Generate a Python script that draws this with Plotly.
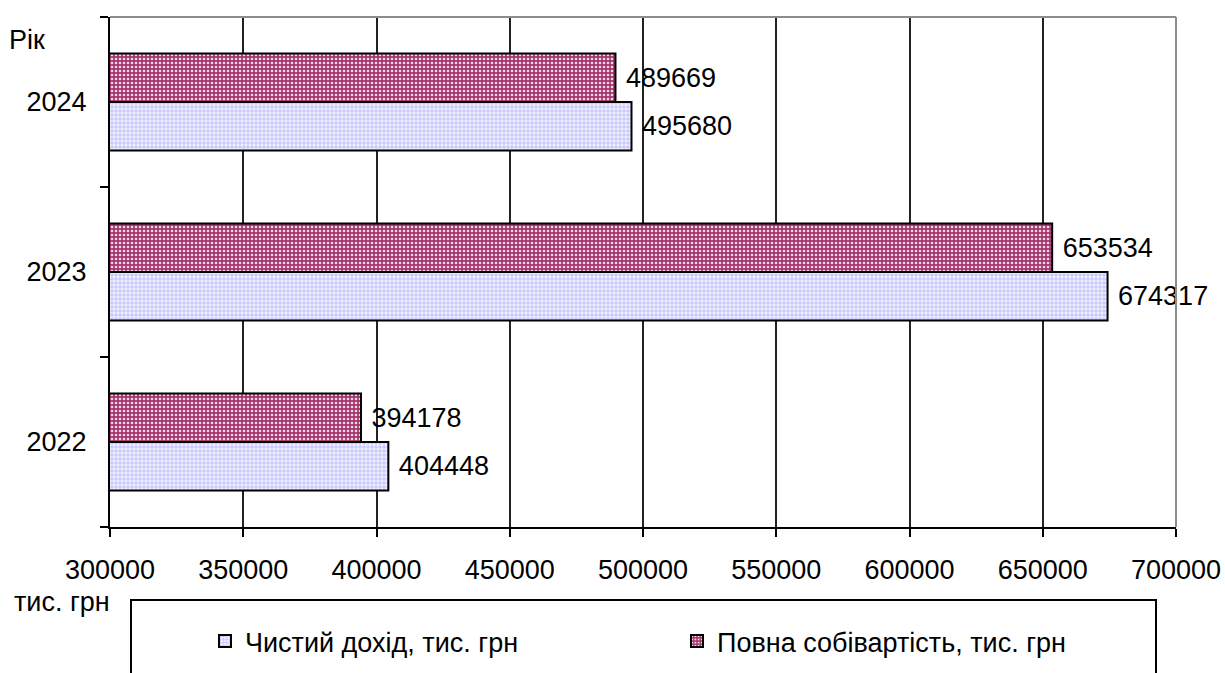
import plotly.graph_objects as go

# Years on the category axis (bottom to top)
years = ["2022", "2023", "2024"]
# Net revenue, thousand UAH
net_income = [404448, 674317, 495680]
# Full cost, thousand UAH
full_cost = [394178, 653534, 489669]

x_ticks = [300000, 350000, 400000, 450000, 500000, 550000, 600000, 650000, 700000]

FONT = "Liberation Sans, Arial, sans-serif"
FS = 27

W, H = 1225, 673
L, R, T, B = 110, 49, 17, 146
PW, PH = W - L - R, H - T - B


def px_x(p):
    return (p - L) / PW


def px_y(p):
    return (H - B - p) / PH


fig = go.Figure()

fig.add_trace(go.Bar(
    name="Чистий дохід, тис. грн",
    y=years, x=net_income, orientation="h",
    marker=dict(
        color="#dcdcff",
        line=dict(color="black", width=2),
        pattern=dict(shape="+", bgcolor="#f0f0ff", fgcolor="#a8a8f8",
                     size=4, solidity=0.3, fillmode="replace"),
    ),
    texttemplate="\u00a0%{x:.0f}", textposition="outside",
    textfont=dict(family=FONT, size=FS, color="black"),
    constraintext="none", cliponaxis=False,
))

fig.add_trace(go.Bar(
    name="Повна собівартість, тис. грн",
    y=years, x=full_cost, orientation="h",
    marker=dict(
        color="#a8336e",
        line=dict(color="black", width=2),
        pattern=dict(shape=".", bgcolor="#a5346c", fgcolor="#f2d6e6",
                     size=4, solidity=0.35, fillmode="replace"),
    ),
    texttemplate="\u00a0%{x:.0f}", textposition="outside",
    textfont=dict(family=FONT, size=FS, color="black"),
    constraintext="none", cliponaxis=False,
))

fig.update_layout(
    width=W, height=H,
    margin=dict(l=L, r=R, t=T, b=B, autoexpand=False),
    paper_bgcolor="white", plot_bgcolor="white",
    barmode="group", bargap=0.43, bargroupgap=0,
    font=dict(family=FONT, size=FS, color="black"),
    xaxis=dict(
        range=[300000, 700000], tickvals=x_ticks,
        ticktext=[str(v) for v in x_ticks],
        showgrid=True, gridcolor="#222222", gridwidth=2,
        showline=True, linecolor="black", linewidth=2,
        ticks="outside", ticklen=8, tickwidth=2, tickcolor="black",
        ticklabelstandoff=10, zeroline=False, automargin=False,
        tickfont=dict(family=FONT, size=FS, color="black"),
    ),
    yaxis=dict(
        type="category", categoryorder="array", categoryarray=years,
        range=[-0.5, 2.5], showgrid=False, automargin=False,
        showline=True, linecolor="black", linewidth=2,
        ticks="outside", tickson="boundaries", ticklen=8, tickwidth=2,
        tickcolor="black", ticklabelstandoff=16,
        tickfont=dict(family=FONT, size=FS, color="black"),
    ),
    legend=dict(
        orientation="h", x=px_x(205), xanchor="left",
        y=px_y(617), yanchor="top",
        entrywidth=427, entrywidthmode="pixels",
        font=dict(family=FONT, size=FS, color="black"),
        bgcolor="rgba(0,0,0,0)", borderwidth=0,
        traceorder="normal",
    ),
    shapes=[
        # top and right edges of the plot area
        dict(type="line", xref="paper", yref="paper", x0=0, x1=1, y0=1, y1=1,
             line=dict(color="#8c8c8c", width=2), layer="above"),
        dict(type="line", xref="paper", yref="paper", x0=1, x1=1, y0=0, y1=1,
             line=dict(color="#8c8c8c", width=2), layer="above"),
        # legend frame
        dict(type="rect", xref="paper", yref="paper",
             x0=px_x(131), x1=px_x(1156), y0=px_y(600), y1=px_y(720),
             line=dict(color="black", width=2), fillcolor="rgba(0,0,0,0)",
             layer="above"),
    ],
    annotations=[
        dict(text="Рік", xref="paper", yref="paper", x=px_x(7), y=px_y(40),
             xanchor="left", yanchor="middle", showarrow=False,
             font=dict(family=FONT, size=FS, color="black")),
        dict(text="тис. грн", xref="paper", yref="paper", x=px_x(12), y=px_y(602),
             xanchor="left", yanchor="middle", showarrow=False,
             font=dict(family=FONT, size=FS, color="black")),
    ],
)

fig.write_html("out.html")
